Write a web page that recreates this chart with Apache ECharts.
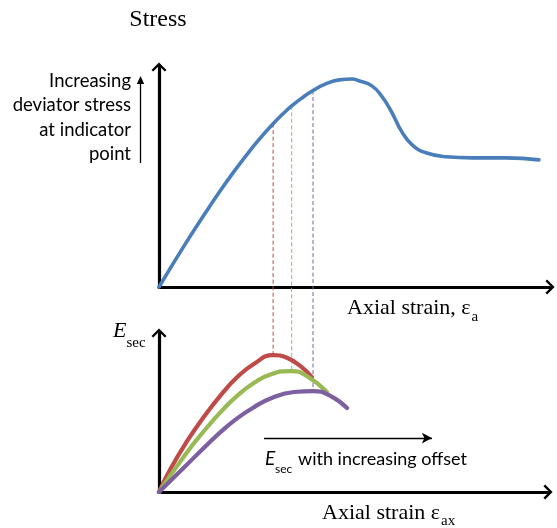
<!DOCTYPE html>
<html>
<head>
<meta charset="utf-8">
<script src="https://cdn.jsdelivr.net/npm/echarts@6/dist/echarts.min.js"></script>
<style>
  html, body { margin: 0; padding: 0; background: #ffffff; }
  #chart { width: 557px; height: 528px; }
</style>
</head>
<body>
<div id="chart"></div>
<script>
// Stress vs axial strain (schematic units: strain 0-100, stress 0-100)
const stressCurve = [
  [0, 0], [6.0, 17.5], [11.8, 33.5], [15.2, 42.5], [18.6, 51.0], [22.0, 59.0],
  [25.3, 66.3], [28.9, 73.5], [31.2, 77.6], [33.6, 81.5], [36.3, 85.2],
  [39.0, 88.4], [42.2, 91.4], [45.6, 93.2], [48.9, 93.6], [50.6, 92.8],
  [53.9, 90.5], [56.5, 85.6], [59.0, 78.4], [61.5, 69.8], [64.1, 64.0],
  [67.6, 60.4], [72.7, 58.6], [79.2, 58.1], [87.8, 58.1], [96.2, 57.2]
];

// Secant modulus vs axial strain for three offsets
const esecSmall = [
  [0, 0], [3.0, 14.5], [7.1, 31.0], [11.4, 46.0], [15.7, 59.3], [19.7, 69.8],
  [24.1, 78.2], [28.9, 83.5], [32.4, 81.9], [35.9, 76.6], [38.7, 70.1]
];
const esecMedium = [
  [0, 0], [7.1, 24.3], [11.4, 37.2], [15.7, 49.0], [19.7, 58.5], [24.1, 66.6],
  [28.4, 71.9], [33.6, 73.8], [37.5, 70.6], [42.5, 61.0]
];
const esecLarge = [
  [0, 0], [7.1, 16.8], [11.4, 27.0], [15.7, 36.8], [19.7, 44.8], [24.1, 51.8],
  [28.4, 57.2], [34.2, 61.0], [39.0, 61.6], [43.5, 58.5], [47.6, 51.2]
];

// Indicator points: strain, stress on the upper curve, peak Esec on the lower curve
const indicatorStrain = [28.9, 33.6, 39.0];
const indicatorStress = [73.5, 81.5, 88.4];
const indicatorEsec = [83.5, 73.8, 61.6];

// Offset direction arrow (strain from, strain to, Esec level)
const offsetArrow = [26.6, 69.1, 32.9];

const colors = { stress: '#4a7ebb', small: '#be4b48', medium: '#98b954', large: '#7d60a0' };
const indicatorColors = [colors.small, colors.medium, colors.large];

const chevron = 'path://M0,0 L8,8 L6.2,9.8 L0,3.6 L-6.2,9.8 L-8,8 Z';

function axis(gridIndex, max) {
  return {
    type: 'value', gridIndex: gridIndex, min: 0, max: max,
    axisLine: { show: true, onZero: false, symbol: ['none', chevron], symbolSize: [15, 10],
      lineStyle: { color: '#000', width: 3.2 } },
    axisTick: { show: false }, axisLabel: { show: false }, splitLine: { show: false }
  };
}

function curve(name, data, color, xi, width) {
  return {
    name: name, type: 'line', xAxisIndex: xi, yAxisIndex: xi, data: data,
    smooth: 0.5, showSymbol: false, symbol: 'none', z: 5,
    lineStyle: { color: color, width: width, cap: 'round', join: 'round' }
  };
}

const chart = echarts.init(document.getElementById('chart'), null, { renderer: 'canvas' });

const serif = '"Liberation Serif", "DejaVu Serif", serif';
const sans = 'Lato, "Open Sans", sans-serif';

chart.setOption({
  animation: false,
  backgroundColor: '#ffffff',
  grid: [
    { left: 159, top: 67, right: 7, bottom: 241 },
    { left: 159, top: 333, right: 9, bottom: 36 }
  ],
  xAxis: [axis(0, 99), axis(1, 98.5)],
  yAxis: [axis(0, 99), axis(1, 97)],
  series: [
    curve('Stress', stressCurve, colors.stress, 0, 3.6),
    curve('Esec small offset', esecSmall, colors.small, 1, 4.2),
    curve('Esec medium offset', esecMedium, colors.medium, 1, 4.2),
    curve('Esec large offset', esecLarge, colors.large, 1, 4.2),
    {
      type: 'line', xAxisIndex: 1, yAxisIndex: 1, data: [], silent: true,
      markLine: {
        silent: true, symbol: ['none', 'arrow'], symbolSize: [8, 10], label: { show: false },
        lineStyle: { color: '#000', width: 1.3, type: 'solid' },
        data: [[{ coord: [offsetArrow[0], offsetArrow[2]] }, { coord: [offsetArrow[1], offsetArrow[2]] }]]
      }
    }
  ]
});

// Dashed connectors from the stress curve down to the Esec peaks
const ctx = document.createElement('canvas').getContext('2d');
function textWidth(str, font) { ctx.font = font; return ctx.measureText(str).width; }

const elements = [];
indicatorStrain.forEach(function (s, i) {
  const p1 = chart.convertToPixel({ gridIndex: 0 }, [s, indicatorStress[i]]);
  const p2 = chart.convertToPixel({ gridIndex: 1 }, [s, indicatorEsec[i]]);
  elements.push({
    type: 'line', z: 1, silent: true,
    shape: { x1: p1[0], y1: p1[1], x2: p2[0], y2: p2[1] },
    style: { stroke: indicatorColors[i], lineWidth: 1, lineDash: [4, 2.5] }
  });
});

// Text placed by its baseline
function label(str, x, baseline, size, family, opts) {
  const o = opts || {};
  const font = (o.italic ? 'italic ' : '') + size + 'px ' + family;
  elements.push({
    type: 'text', x: x, y: baseline - 0.33 * size, z: 10, silent: true,
    style: { text: str, fill: '#000', font: font, align: o.align || 'left', verticalAlign: 'middle' }
  });
  return textWidth(str, font);
}

// Titles
label('Stress', 158, 28, 24, serif, { align: 'center' });

// Upper x-axis title with subscript
let w = label('Axial strain, \u03b5', 347, 315, 22, serif);
label('a', 347 + w + 1, 322, 15, serif);

// Lower y-axis title
w = label('E', 113, 338, 22, serif, { italic: true });
label('sec', 113 + w, 348, 15, serif);

// Lower x-axis title
w = label('Axial strain \u03b5', 322, 520, 22, serif);
label('ax', 322 + w + 1, 526, 15, serif);

// Offset annotation
label('E', 265, 465, 19, sans, { italic: true });
label('sec', 275, 473, 12, sans);
label('with increasing offset', 298, 465, 18, sans);

// Indicator note on the left
['Increasing', 'deviator stress', 'at indicator', 'point'].forEach(function (t, i) {
  label(t, 131, 87 + i * 24.5, 18.5, sans, { align: 'right' });
});
elements.push({
  type: 'line', silent: true, shape: { x1: 140.5, y1: 163, x2: 140.5, y2: 82 },
  style: { stroke: '#000', lineWidth: 1.3 }
});
elements.push({
  type: 'polygon', silent: true, shape: { points: [[140.5, 76], [136.8, 84], [144.2, 84]] },
  style: { fill: '#000' }
});

chart.setOption({ graphic: { elements: elements } });
</script>
</body>
</html>
